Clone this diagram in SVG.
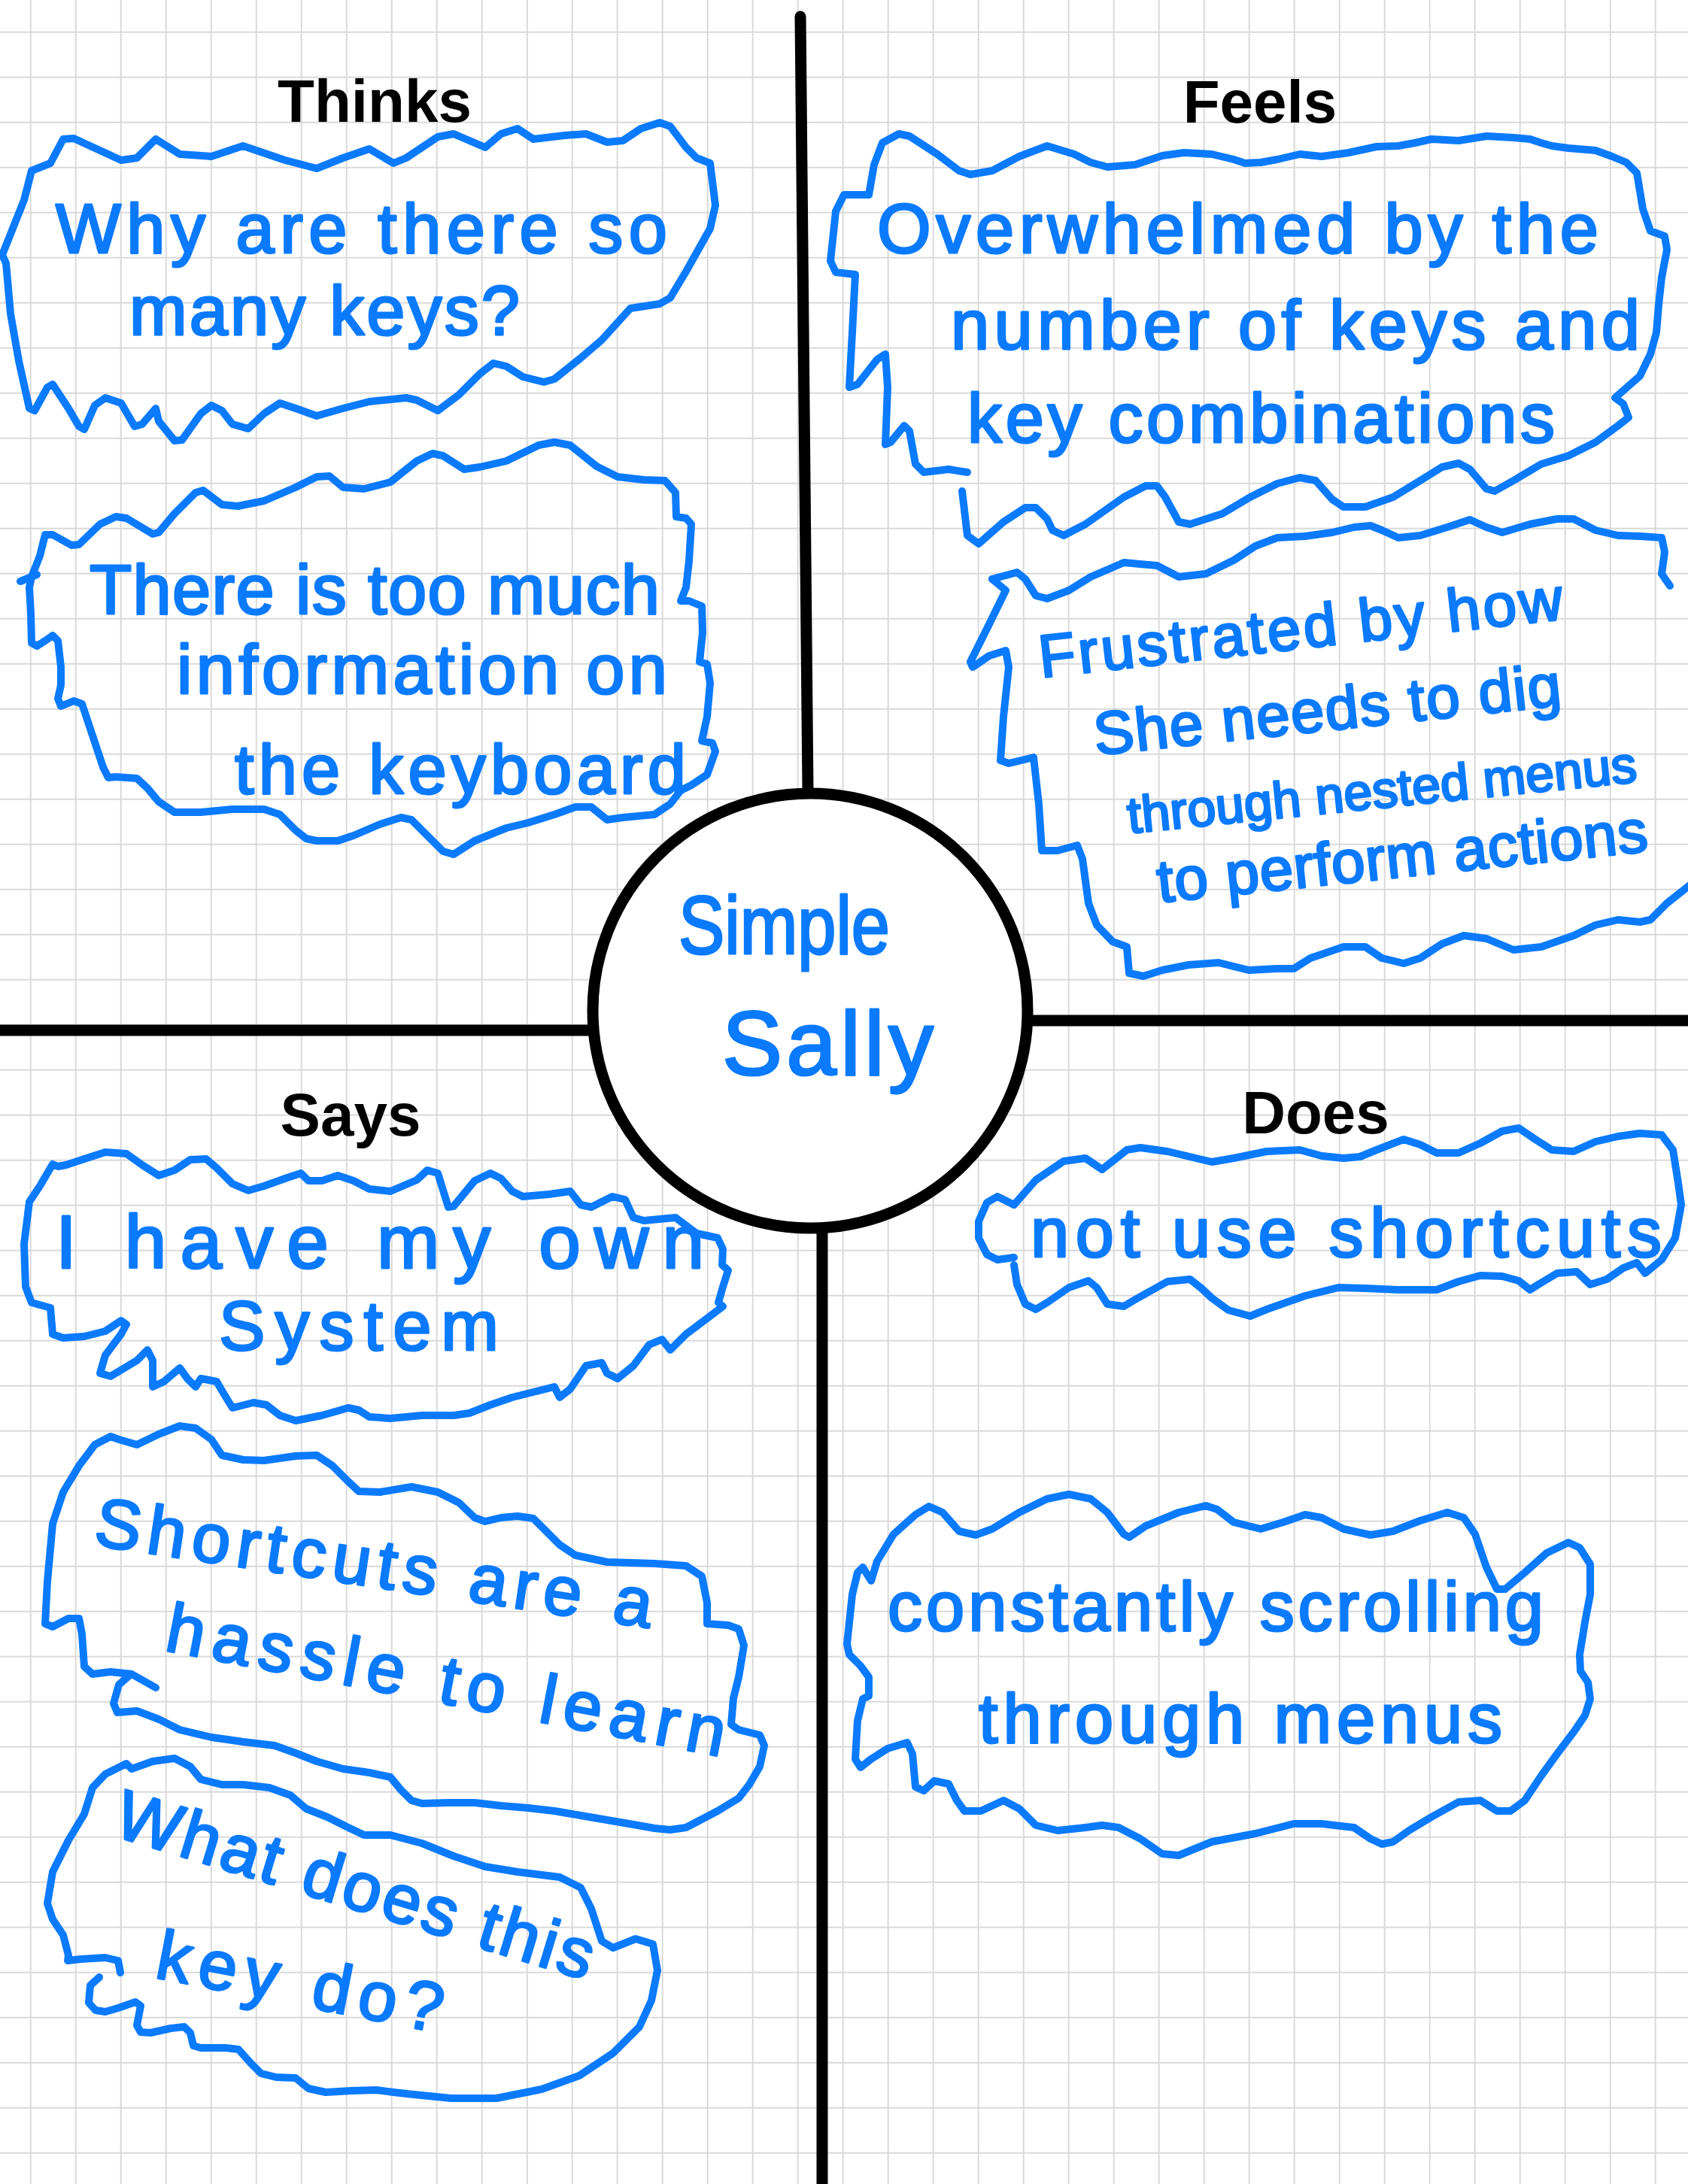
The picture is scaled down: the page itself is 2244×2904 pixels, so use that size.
<svg xmlns="http://www.w3.org/2000/svg" width="2244" height="2904" viewBox="0 0 2244 2904">
  <defs>
    <pattern id="grid" x="10.7" y="12.7" width="60" height="60" patternUnits="userSpaceOnUse">
      <path d="M30 0V60M0 30H60" fill="none" stroke="#d9d9d9" stroke-width="2"/>
    </pattern>
    <style>
      .frame { fill: none; stroke: #000; stroke-width: 15; stroke-linecap: round; }
      .cloud { fill: none; stroke: #0a7aff; stroke-width: 10; stroke-linejoin: round; stroke-linecap: round; }
      .head { font-family: "Liberation Sans", Arial, sans-serif; font-weight: bold; font-size: 80px; fill: #000; text-anchor: middle; }
      .hw { font-family: "Liberation Sans", Arial, sans-serif; font-size: 92px; fill: #0a7aff; stroke: #0a7aff; stroke-width: 3; stroke-linejoin: round; }
      .small { font-size: 80px; }
      .tiny { font-size: 68px; }
      .big { font-size: 100px; }
      .name1 { font-size: 110px; }
      .name2 { font-size: 120px; }
    </style>
  </defs>

  <!-- paper -->
  <rect width="2244" height="2904" fill="#fff"/>
  <rect width="2244" height="2904" fill="url(#grid)"/>

  <!-- quadrant dividers -->
  <g id="connectors">
    <line class="frame" x1="1064" y1="22" x2="1074" y2="1052"/>
    <line class="frame" x1="1093" y1="1636" x2="1093" y2="2910"/>
    <line class="frame" x1="-10" y1="1370" x2="786" y2="1370"/>
    <line class="frame" x1="1368" y1="1357" x2="2254" y2="1357"/>
  </g>

  <!-- persona in the centre -->
  <g id="persona">
    <circle cx="1077" cy="1344" r="289" fill="#fff" stroke="#000" stroke-width="15"/>
    <text class="hw name1" x="902" y="1268" textLength="281" lengthAdjust="spacingAndGlyphs">Simple</text>
    <text class="hw name2" x="960" y="1429" textLength="281" lengthAdjust="spacing">Sally</text>
  </g>

  <!-- headings -->
  <g id="headings">
    <text class="head" x="498" y="162">Thinks</text>
    <text class="head" x="1675" y="163">Feels</text>
    <text class="head" x="466" y="1510">Says</text>
    <text class="head" x="1749" y="1507">Does</text>
  </g>

  <!-- Thinks -->
  <g id="thinks-1">
    <polygon class="cloud" points="3,339 32,266 42,227 67,217 84,185 98,184 161,213 182,210 207,185 239,205 281,208 323,194 379,213 421,224 456,210 491,198 523,217 540,210 582,182 603,178 645,196 666,178 688,171 709,185 751,180 779,178 807,189 828,187 852,171 877,163 891,168 912,196 926,210 944,217 947,241 951,273 944,304 912,361 891,396 877,404 838,410 800,452 772,476 737,504 723,508 695,501 673,487 656,483 638,497 610,525 582,546 554,532 540,529 491,534 456,543 421,553 393,543 372,536 351,550 330,570 309,564 295,546 281,539 267,550 242,585 232,586 211,560 207,543 189,564 179,567 161,536 140,529 126,539 112,571 105,567 91,543 70,511 63,515 46,546 39,543 25,480 14,417 8,350"/>
    <text class="hw" x="74" y="336" textLength="813" lengthAdjust="spacing">Why are there so</text>
    <text class="hw" x="172" y="445" textLength="519" lengthAdjust="spacing">many keys?</text>
  </g>

  <g id="thinks-2">
    <polygon class="cloud" points="60,711 70,711 95,725 105,724 133,697 154,687 168,689 203,710 211,708 232,683 260,655 270,652 295,671 316,673 351,666 393,648 421,634 438,633 456,648 484,650 519,641 554,613 575,603 589,606 617,624 638,621 673,613 716,592 737,588 758,592 793,620 821,634 856,638 884,639 898,655 899,687 912,689 919,697 916,746 912,781 905,799 916,799 933,806 934,841 930,880 940,883 944,908 940,953 933,985 947,988 951,999 940,1030 919,1044 905,1051 891,1069 870,1083 828,1087 807,1090 786,1073 765,1073 737,1083 702,1094 673,1101 631,1118 603,1136 589,1132 561,1104 547,1090 533,1087 505,1096 470,1111 449,1118 421,1118 407,1115 393,1104 372,1083 351,1076 309,1076 267,1080 232,1080 211,1066 196,1048 182,1035 154,1033 144,1034 137,1020 123,978 109,936 98,932 81,939 77,929 81,911 81,887 77,852 70,845 60,852 49,859 42,855 41,816 39,781 42,767 53,739"/>
    <path class="cloud" d="M27 773L49 764"/>
    <text class="hw" x="119" y="816" textLength="758" lengthAdjust="spacing">There is too much</text>
    <text class="hw" x="235" y="922" textLength="652" lengthAdjust="spacing">information on</text>
    <text class="hw" x="312" y="1055" textLength="600" lengthAdjust="spacing">the keyboard</text>
  </g>

  <!-- Feels -->
  <g id="feels-1">
    <polyline class="cloud" points="1155,259 1122,259 1111,281 1104,347 1111,362 1137,365 1133,442 1129,515 1140,511 1166,478 1177,471 1180,515 1177,591 1184,588 1202,566 1209,573 1217,617 1228,628 1261,624 1286,628"/>
    <polyline class="cloud" points="1279,653 1286,712 1301,723 1334,694 1363,675 1377,675 1392,690 1399,705 1414,712 1443,697 1494,661 1523,646 1538,646 1549,661 1567,694 1582,697 1625,683 1662,661 1698,643 1728,635 1749,639 1771,664 1786,674 1815,674 1852,661 1888,639 1917,621 1939,616 1954,624 1976,650 1987,653 2012,639 2049,617 2085,606 2121,588 2151,566 2165,555 2158,537 2147,529 2180,500 2194,471 2202,442 2205,405 2209,369 2216,332 2213,314 2194,307 2184,278 2176,230 2162,216 2143,208 2121,200 2085,197 2063,194 2049,190 2034,185 2012,183 1976,181 1939,187 1903,185 1881,190 1859,194 1830,195 1793,203 1757,208 1728,205 1698,212 1676,216 1655,217 1640,212 1611,205 1574,203 1545,207 1509,219 1472,222 1450,216 1428,205 1392,194 1355,208 1319,227 1290,232 1275,227 1246,205 1209,181 1195,178 1173,190 1162,219 1155,259"/>
    <text class="hw" x="1166" y="336" textLength="959" lengthAdjust="spacing">Overwhelmed by the</text>
    <text class="hw" x="1264" y="464" textLength="916" lengthAdjust="spacing">number of keys and</text>
    <text class="hw" x="1286" y="588" textLength="781" lengthAdjust="spacing">key combinations</text>
  </g>

  <g id="feels-2">
    <polyline class="cloud" points="1319,770 1352,761 1363,770 1377,792 1392,796 1421,785 1450,767 1494,748 1538,752 1567,767 1603,763 1640,745 1669,726 1698,715 1735,713 1771,708 1800,701 1822,699 1837,705 1859,715 1888,712 1924,701 1954,691 1976,701 1997,708 2034,697 2070,690 2092,690 2121,705 2151,712 2180,713 2209,715 2213,734 2209,763 2220,779"/>
    <polyline class="cloud" points="1319,770 1337,785 1312,836 1290,880 1293,887 1315,872 1337,865 1341,887 1334,953 1330,1011 1341,1015 1374,1007 1381,1069 1385,1131 1406,1131 1432,1124 1439,1142 1447,1201 1458,1230 1479,1252 1498,1259 1501,1294 1520,1298 1545,1290 1580,1283 1620,1280 1660,1290 1698,1288 1720,1288 1742,1274 1786,1259 1815,1259 1837,1274 1866,1281 1888,1274 1917,1255 1946,1244 1976,1248 2012,1263 2049,1259 2092,1244 2121,1230 2151,1223 2180,1226 2194,1223 2216,1201 2250,1174"/>
    <text class="hw small" x="1384" y="901" textLength="700" lengthAdjust="spacing" transform="rotate(-6.4 1384 901)">Frustrated by how</text>
    <text class="hw small" x="1457" y="1004" textLength="624" lengthAdjust="spacing" transform="rotate(-6.1 1457 1004)">She needs to dig</text>
    <text class="hw tiny" x="1501" y="1108" textLength="680" lengthAdjust="spacing" transform="rotate(-5.8 1501 1108)">through nested menus</text>
    <text class="hw small" x="1541" y="1200" textLength="655" lengthAdjust="spacing" transform="rotate(-6 1541 1200)">to perform actions</text>
  </g>

  <!-- Says -->
  <g id="says-1">
    <polygon class="cloud" points="39,1598 53,1577 70,1548 77,1551 88,1549 112,1541 140,1532 168,1534 189,1549 211,1563 232,1556 253,1542 274,1541 288,1553 309,1574 330,1583 351,1577 379,1567 400,1560 410,1570 428,1570 449,1563 470,1570 491,1581 519,1584 554,1569 568,1556 582,1560 596,1605 603,1604 631,1570 652,1560 666,1567 681,1584 695,1591 730,1588 758,1584 772,1602 786,1605 814,1591 831,1595 842,1619 856,1623 898,1619 926,1640 954,1646 961,1661 960,1682 968,1689 961,1711 955,1732 961,1737 940,1753 912,1774 891,1795 880,1781 863,1788 842,1816 821,1833 807,1826 800,1812 779,1816 758,1847 744,1858 737,1844 709,1851 681,1858 652,1868 624,1879 603,1882 561,1882 519,1886 491,1884 477,1875 463,1872 428,1882 393,1889 372,1882 354,1868 337,1865 309,1872 298,1854 288,1837 267,1833 260,1844 249,1833 239,1819 218,1837 203,1844 203,1809 196,1795 182,1809 147,1830 133,1826 140,1802 161,1774 168,1761 161,1756 140,1770 112,1777 84,1779 70,1774 67,1739 42,1732 34,1711 32,1654"/>
    <text class="hw big" x="74" y="1686" textLength="862" lengthAdjust="spacing">I have my own</text>
    <text class="hw" x="291" y="1795" textLength="372" lengthAdjust="spacing">System</text>
  </g>

  <g id="says-2">
    <polyline class="cloud" points="172,2228 158,2240 151,2265 156,2277 182,2275 211,2286 239,2300 281,2310 323,2316 365,2321 393,2331 421,2342 456,2352 491,2357 519,2363 533,2380 547,2394 561,2398 596,2397 631,2397 666,2401 702,2404 737,2408 772,2414 807,2420 842,2426 870,2431 891,2433 912,2430 933,2419 954,2408 982,2391 996,2373 1010,2349 1016,2321 1010,2307 982,2300 972,2293 975,2258 982,2230 989,2188 982,2166 968,2161 940,2159 940,2131 933,2096 912,2082 870,2079 807,2077 765,2068 744,2054 723,2033 709,2019 688,2016 666,2018 645,2023 631,2018 610,1998 582,1984 547,1977 505,1984 477,1983 463,1970 442,1949 421,1935 393,1936 351,1942 323,1941 295,1935 281,1914 260,1899 239,1896 211,1907 182,1921 158,1914 147,1910 126,1921 105,1949 84,1984 70,2026 63,2103 60,2159 70,2163 91,2152 105,2152 109,2173 112,2216 123,2226 147,2223 175,2226 207,2244"/>
    <text class="hw" x="123" y="2054" textLength="748" lengthAdjust="spacing" transform="rotate(8.5 123 2054)">Shortcuts are a</text>
    <text class="hw" x="217" y="2194" textLength="755" lengthAdjust="spacing" transform="rotate(10.8 217 2194)">hassle to learn</text>
  </g>

  <g id="says-3">
    <polyline class="cloud" points="160,2623 157,2607 140,2603 107,2605 90,2607 91,2600 84,2573 70,2552 63,2531 70,2489 91,2447 112,2412 123,2377 140,2359 168,2345 175,2352 203,2342 232,2338 253,2349 267,2366 295,2373 323,2373 358,2377 386,2387 407,2405 435,2416 463,2430 484,2440 519,2440 561,2451 603,2468 645,2482 688,2489 744,2496 772,2510 786,2538 800,2581 815,2590 845,2578 868,2585 874,2620 866,2660 850,2695 815,2730 770,2760 720,2778 660,2790 600,2790 550,2785 523,2782 500,2779 467,2780 433,2782 410,2777 393,2763 367,2762 347,2757 333,2743 317,2725 300,2723 267,2723 257,2720 253,2703 245,2695 227,2697 200,2703 187,2702 182,2693 187,2667 180,2662 157,2670 140,2675 127,2673 118,2663 120,2640 132,2629"/>
    <text class="hw" x="148" y="2440" textLength="660" lengthAdjust="spacing" transform="rotate(17 148 2440)">What does this</text>
    <text class="hw" x="204" y="2629" textLength="386" lengthAdjust="spacing" transform="rotate(11 204 2629)">key do?</text>
  </g>

  <!-- Does -->
  <g id="does-1">
    <polyline class="cloud" points="1348,1602 1326,1591 1312,1599 1301,1624 1301,1646 1312,1668 1326,1675 1348,1672"/>
    <polyline class="cloud" points="1348,1602 1377,1569 1414,1544 1443,1540 1465,1555 1479,1544 1498,1529 1516,1526 1552,1531 1611,1545 1640,1540 1684,1531 1728,1529 1757,1537 1786,1540 1808,1538 1830,1529 1866,1515 1888,1522 1910,1533 1939,1533 1968,1520 1997,1504 2019,1500 2041,1515 2063,1529 2092,1531 2121,1518 2151,1511 2180,1507 2209,1509 2224,1529 2231,1573 2235,1602 2227,1646 2209,1675 2187,1693 2176,1679 2158,1686 2136,1701 2114,1708 2096,1691 2070,1693 2045,1708 2034,1715 2019,1703 1997,1697 1968,1696 1939,1704 1910,1715 1859,1715 1815,1713 1779,1712 1735,1723 1684,1741 1662,1750 1633,1742 1611,1726 1596,1712 1582,1701 1552,1704 1509,1728 1494,1737 1472,1734 1458,1712 1447,1703 1421,1712 1392,1732 1377,1741 1363,1734 1352,1708 1348,1682"/>
    <text class="hw" x="1370" y="1671" textLength="839" lengthAdjust="spacing">not use shortcuts</text>
  </g>

  <g id="does-2">
    <polygon class="cloud" points="1147,2084 1158,2102 1166,2076 1188,2040 1217,2014 1235,2003 1253,2011 1275,2036 1297,2041 1319,2033 1355,2011 1392,1993 1421,1987 1450,1993 1472,2011 1494,2040 1501,2044 1523,2029 1567,2011 1603,2002 1618,2007 1640,2024 1676,2033 1706,2024 1735,2014 1757,2018 1786,2033 1822,2041 1852,2036 1888,2022 1924,2011 1946,2018 1961,2040 1976,2084 1990,2113 2001,2113 2027,2091 2056,2065 2085,2051 2100,2058 2114,2080 2114,2120 2107,2157 2100,2200 2101,2222 2111,2237 2114,2259 2107,2281 2092,2303 2070,2332 2049,2361 2027,2394 2008,2408 1990,2408 1968,2394 1939,2396 1903,2416 1873,2434 1852,2449 1837,2452 1822,2445 1800,2430 1757,2425 1720,2425 1669,2438 1611,2449 1567,2467 1545,2465 1516,2445 1487,2430 1465,2427 1443,2430 1406,2434 1377,2427 1355,2405 1334,2394 1304,2408 1282,2408 1272,2394 1261,2372 1242,2368 1228,2381 1217,2376 1213,2332 1206,2317 1180,2325 1158,2339 1144,2350 1137,2339 1140,2288 1147,2259 1155,2255 1155,2230 1144,2215 1129,2200 1126,2186 1133,2120 1140,2091"/>
    <text class="hw" x="1180" y="2168" textLength="872" lengthAdjust="spacing">constantly scrolling</text>
    <text class="hw" x="1301" y="2317" textLength="696" lengthAdjust="spacing">through menus</text>
  </g>
</svg>
